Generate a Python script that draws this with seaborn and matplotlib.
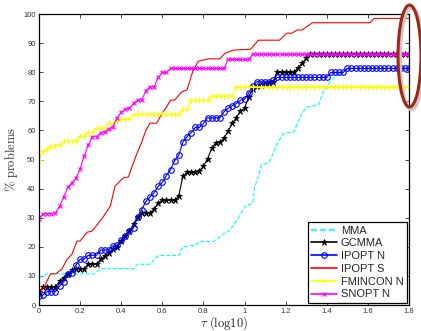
import numpy as np
import seaborn as sns
import matplotlib.pyplot as plt
from matplotlib.patches import Ellipse

# tau grid used by the marked solvers (log10 scale)
tau = np.round(np.arange(0, 1.81, 0.02), 2)

gcmma = [4.6, 6.1, 6.3, 6.3, 6.3, 8.1, 9.4, 10.7, 11.9, 12.5,
         12.5, 12.5, 14, 14, 14, 15.7, 16.8, 18, 19.2, 20,
         22, 23.6, 25.5, 27.8, 30.3, 31.7, 31.7, 31.7, 33, 35,
         36, 36, 36, 36, 37.6, 44.2, 45.6, 45.6, 45.6, 46.1,
         47.7, 50.3, 53.8, 55.7, 55.9, 57.3, 59.8, 62.4, 64.3, 66.6,
         67.6, 71.6, 74.2, 75.3, 75.6, 76, 76.2, 76.5, 79.9, 79.9,
         79.9, 79.9, 79.9, 81.6, 83, 84.8, 86.2] + [86.2] * 24

ipopt_n = [3, 3.5, 4.6, 4.6, 4.6, 6.5, 7.9, 10.7, 11, 13.8,
           15.7, 15.8, 17.1, 17.1, 17.1, 18.9, 18.9, 18.9, 20.3, 20.5,
           22.3, 23.7, 25.6, 26.5, 30.1, 32.8, 35.6, 37.1, 38.6, 40.8,
           42.2, 44.5, 46.5, 49.6, 51.5, 56, 57.8, 59.2, 61, 61,
           62.4, 64.3, 64.3, 64.3, 64.3, 66.4, 67.6, 68.5, 69.2, 70.4,
           70.7, 72.8, 75.3, 76.7, 76.7, 76.7, 76.7, 77.2, 78.2] \
    + [78.2] * 12 + [79.9] * 4 + [81.3] * 16

fmincon_n = [49.8, 53, 53.5, 54.7, 54.7, 55, 56.2, 56.2, 56.2, 56.2,
             58, 58, 59.3, 59.3, 60.9, 60.9, 60.9, 62.4, 62.4, 63.4,
             64, 64, 64, 65.6] + [65.6] * 11 \
    + [67.2, 67.2, 70.4, 70.4, 70.4, 70.4, 70.4, 71.9, 71.9, 71.9,
       71.9, 71.9, 71.9] + [75] * 43

snopt_n = [29.7, 31.4, 31.4, 31.4, 31.7, 33.9, 37.1, 40.4, 42, 43.6,
           46.7, 51.2, 55, 57.8, 57.8, 59.2, 59.5, 60.6, 61.3, 64.4,
           66.2, 67.2, 67.7, 69.3, 70.4, 70.4, 73.7, 75, 75, 78.2,
           79.9, 79.9] + [81.3] * 14 + [84.4] * 6 + [86.2] * 39

# unmarked solvers, read at their breakpoints
mma_tau = [0, 0.04, 0.27, 0.30, 0.46, 0.48, 0.54, 0.58, 0.68, 0.70, 0.76,
           0.78, 0.85, 0.88, 0.93, 0.97, 1.0, 1.04, 1.05, 1.07, 1.08, 1.12,
           1.16, 1.19, 1.24, 1.27, 1.30, 1.36, 1.38, 1.42, 1.47, 1.5, 1.8]
mma = [9.5, 10.7, 10.7, 12.5, 12.5, 14, 14, 17, 17, 20, 20.5,
       21.8, 21.8, 23.5, 25.8, 29.9, 33.8, 35, 40.7, 44.7, 48, 49,
       55.6, 59, 59.5, 64.6, 68, 68.7, 72.8, 77.3, 79.7, 81.3, 81.3]

ipopt_s_tau = [0, 0.024, 0.056, 0.08, 0.11, 0.137, 0.16, 0.185, 0.2, 0.234,
               0.258, 0.31, 0.347, 0.37, 0.41, 0.435, 0.45, 0.476, 0.5, 0.52,
               0.54, 0.573, 0.6, 0.62, 0.64, 0.66, 0.695, 0.72, 0.75, 0.776,
               0.825, 0.88, 0.905, 0.946, 1.03, 1.067, 1.17, 1.205, 1.23,
               1.255, 1.28, 1.33, 1.61, 1.63, 1.8]
ipopt_s = [4.6, 6, 10.7, 10.7, 12.2, 15.7, 17.4, 22, 22, 25,
           25.4, 30, 34, 40.8, 43.7, 44, 47, 52, 56, 60,
           62.5, 62.5, 66, 68, 70.4, 70.4, 73.3, 73.9, 80.7, 83.8,
           84.6, 84.6, 86.5, 87.6, 87.9, 91, 91, 93.4, 93.4,
           94.5, 94.5, 97, 97, 98.5, 98.5]

x_ticks = [0, 0.2, 0.4, 0.6, 0.8, 1, 1.2, 1.4, 1.6, 1.8]
x_ticklabels = ['0', '0.2', '0.4', '0.6', '0.8', '1', '1.2', '1.4', '1.6', '1.8']
y_ticks = [0, 10, 20, 30, 40, 50, 60, 70, 80, 90, 100]

sns.set_style("ticks")
plt.rcParams['font.family'] = ['Liberation Sans', 'DejaVu Sans']
plt.rcParams['mathtext.fontset'] = 'cm'
plt.rcParams['xtick.direction'] = 'in'
plt.rcParams['ytick.direction'] = 'in'

fig = plt.figure(figsize=(4.21, 3.31), dpi=100)
ax = fig.add_axes([0.0926, 0.0785, 0.8789, 0.8792])

lw = 0.8
sns.lineplot(x=mma_tau, y=mma, ax=ax, color='#00ffff', lw=lw,
             linestyle='--', label='MMA')
sns.lineplot(x=tau, y=gcmma, ax=ax, color='black', lw=lw, marker='*',
             markersize=4.5, markeredgewidth=0.5, markeredgecolor='black',
             label='GCMMA')
sns.lineplot(x=tau, y=ipopt_n, ax=ax, color='blue', lw=lw, marker='o',
             markersize=4, markerfacecolor='none', markeredgecolor='blue',
             markeredgewidth=0.8, label='IPOPT N')
sns.lineplot(x=ipopt_s_tau, y=ipopt_s, ax=ax, color='red', lw=lw,
             label='IPOPT S')
sns.lineplot(x=tau, y=fmincon_n, ax=ax, color='yellow', lw=lw, marker='+',
             markersize=4.5, markeredgewidth=0.8, markeredgecolor='yellow',
             label='FMINCON N')
sns.lineplot(x=tau, y=snopt_n, ax=ax, color='magenta', lw=lw, marker='x',
             markersize=3.5, markeredgewidth=0.8, markeredgecolor='magenta',
             label='SNOPT N')

ax.set_xlim(0, 1.8)
ax.set_ylim(0, 100)
ax.set_xticks(x_ticks)
ax.set_xticklabels(x_ticklabels)
ax.set_yticks(y_ticks)
ax.tick_params(labelsize=5.5, length=3, width=0.6, top=True, right=True,
               pad=2.5, colors='#222222', labelcolor='#333333')
for s in ax.spines.values():
    s.set_linewidth(0.9)
    s.set_color('black')

ax.set_xlabel(r'$\tau\ \mathrm{(log10)}$', fontsize=9, labelpad=-1)
ax.set_ylabel(r'$\%\ \mathrm{problems}$', fontsize=9, labelpad=2,
              color='#333333')

leg = ax.legend(loc='lower right', fontsize=8, frameon=True, fancybox=False,
                edgecolor='black', framealpha=1, borderaxespad=0.2,
                labelspacing=0.25, handlelength=2.3, handletextpad=0.35,
                borderpad=0.3)
leg.get_frame().set_linewidth(0.9)
for h in leg.get_lines():
    h.set_linewidth(1.2)

# highlight ellipse on the right edge
shadow = Ellipse((411.5 / 421, 1 - 58.5 / 331), 23 / 421, 102 / 331,
                 transform=fig.transFigure, fill=False, lw=2.6,
                 edgecolor='#c8c8c8', clip_on=False)
ring = Ellipse((409.5 / 421, 1 - 56 / 331), 23 / 421, 102 / 331,
               transform=fig.transFigure, fill=False, lw=2.2,
               edgecolor='#a32514', clip_on=False)
fig.add_artist(shadow)
fig.add_artist(ring)

fig.savefig('out.png', dpi=100)
